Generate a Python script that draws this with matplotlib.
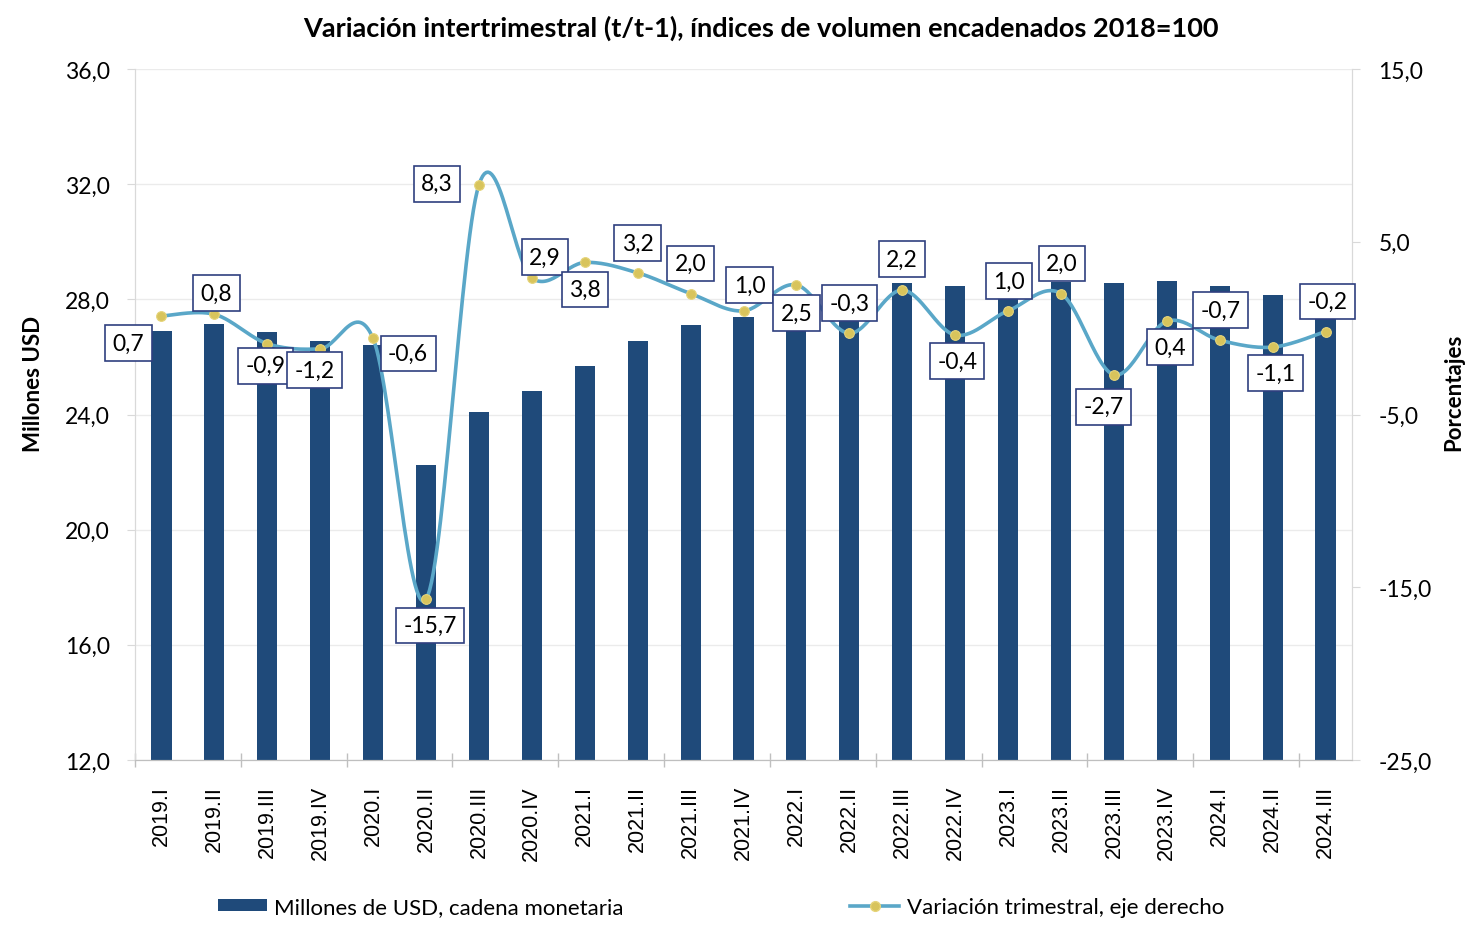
import numpy as np
import matplotlib
matplotlib.use("Agg")
import matplotlib.pyplot as plt
from matplotlib.lines import Line2D
from matplotlib.patches import Patch

plt.rcParams['font.family'] = ['Lato', 'DejaVu Sans']

# ---------------- data ----------------
categories = ["2019.I", "2019.II", "2019.III", "2019.IV",
              "2020.I", "2020.II", "2020.III", "2020.IV",
              "2021.I", "2021.II", "2021.III", "2021.IV",
              "2022.I", "2022.II", "2022.III", "2022.IV",
              "2023.I", "2023.II", "2023.III", "2023.IV",
              "2024.I", "2024.II", "2024.III"]

millones_usd = [26.9, 27.15, 26.87, 26.55,
                26.4, 22.25, 24.1, 24.8,
                25.7, 26.55, 27.1, 27.4,
                27.75, 27.9, 28.55, 28.45,
                28.1, 28.6, 28.55, 28.65,
                28.45, 28.15, 28.2]

variacion = [0.7, 0.8, -0.9, -1.2,
             -0.6, -15.7, 8.3, 2.9,
             3.8, 3.2, 2.0, 1.0,
             2.5, -0.3, 2.2, -0.4,
             1.0, 2.0, -2.7, 0.4,
             -0.7, -1.1, -0.2]

left_ticks = [12.0, 16.0, 20.0, 24.0, 28.0, 32.0, 36.0]
right_ticks = [-25.0, -15.0, -5.0, 5.0, 15.0]

# label offsets (pixels: dx right, dy down) relative to each point
label_offsets = [(-33, 27), (2, -21), (-2, 22), (-6, 21),
                 (35, 15), (4, 26), (-42, -1), (13, -21),
                 (0, 27), (0, -30), (0, -30), (6, -26),
                 (0, 28), (0, -30), (0, -31), (2, 26),
                 (1, -30), (1, -30), (-10, 32), (3, 26),
                 (1, -30), (3, 26), (2, -30)]

BAR_COLOR = "#1F4A7A"
LINE_COLOR = "#5AA7C8"
MARK_COLOR = "#D8C45C"

def fmt(v):
    return f"{v:.1f}".replace(".", ",")

def catmull_rom(xs, ys, n=30):
    """Excel-like smoothed line through the given points (Bezier with
    control points P_i +/- (P_{i+1}-P_{i-1})/6)."""
    P = np.column_stack([xs, ys]).astype(float)
    out = []
    for i in range(len(P) - 1):
        p0 = P[i - 1] if i > 0 else P[i]
        p1 = P[i]
        p2 = P[i + 1]
        p3 = P[i + 2] if i + 2 < len(P) else P[i + 1]
        c1 = p1 + (p2 - p0) / 6.0
        c2 = p2 - (p3 - p1) / 6.0
        t = np.linspace(0, 1, n)[:, None]
        seg = ((1 - t) ** 3) * p1 + 3 * ((1 - t) ** 2) * t * c1 + 3 * (1 - t) * t ** 2 * c2 + t ** 3 * p2
        out.append(seg if i == 0 else seg[1:])
    S = np.vstack(out)
    return S[:, 0], S[:, 1]

# ---------------- figure ----------------
W, H = 1466, 928
fig = plt.figure(figsize=(W / 100, H / 100), dpi=100)
L, R, T, B = 135, 1352, 70, 761
ax = fig.add_axes([L / W, 1 - B / H, (R - L) / W, (B - T) / H])

x = np.arange(len(categories))
ax.bar(x, millones_usd, width=0.38, color=BAR_COLOR, zorder=2)
ax.set_xlim(-0.5, len(categories) - 0.5)
ax.set_ylim(12, 36)
ax.set_yticks(left_ticks)
ax.set_yticklabels([fmt(v) for v in left_ticks], fontsize=16.5)
ax.yaxis.grid(True, color="#EBEBEB", linewidth=1.0, zorder=0)
ax.set_axisbelow(True)
ax.set_xticks(x)
ax.set_xticklabels(categories, rotation=90, fontsize=15.5,
                   family=["Liberation Sans", "DejaVu Sans"])
ax.tick_params(axis="x", length=0, pad=18)
ax.set_xticks(np.arange(-0.5, len(categories), 2), minor=True)
ax.tick_params(axis="x", which="minor", length=10, direction="inout", color="#BFBFBF", width=1)
ax.tick_params(axis="y", length=6, color="#D9D9D9", pad=12)
ax.spines["top"].set_visible(False)
for s in ["left", "right"]:
    ax.spines[s].set_color("#D9D9D9")
ax.spines["bottom"].set_color("#BFBFBF")

ax2 = ax.twinx()
ax2.set_ylim(-25, 15)
ax2.set_yticks(right_ticks)
ax2.set_yticklabels([fmt(v) for v in right_ticks], fontsize=16.5)
ax2.tick_params(axis="y", length=6, color="#D9D9D9", pad=13)
ax2.spines["top"].set_visible(False)
for s in ["left", "right"]:
    ax2.spines[s].set_color("#D9D9D9")
ax2.spines["bottom"].set_color("#BFBFBF")

sx, sy = catmull_rom(x, variacion)
ax2.plot(sx, sy, color=LINE_COLOR, linewidth=2.6, solid_capstyle="round", zorder=3)
ax2.plot(x, variacion, linestyle="none", marker="o", markersize=7,
         markerfacecolor=MARK_COLOR, markeredgecolor="#E6D47A", markeredgewidth=0.8, zorder=4)

for xi, v, (dx, dy) in zip(x, variacion, label_offsets):
    ax2.annotate(fmt(v), (xi, v), xytext=(dx * 0.72, -dy * 0.72), textcoords="offset points",
                 ha="center", va="center", fontsize=16.5, zorder=6,
                 bbox=dict(boxstyle="square,pad=0.32", facecolor="white",
                           edgecolor="#2F3F7F", linewidth=1.2))

fig.text(761 / W, 1 - 28 / H,
         "Variación intertrimestral (t/t-1), índices de volumen encadenados 2018=100",
         ha="center", va="center", fontsize=19.5, fontweight="bold")

fig.text(33 / W, 1 - 384 / H, "Millones USD", rotation=90, ha="center", va="center",
         fontsize=16, fontweight="bold")

fig.text(1443 / W, 1 - 392 / H, "Porcentajes", rotation=90, ha="left", va="center",
         fontsize=16, fontweight="bold")

handles = [Patch(facecolor=BAR_COLOR, edgecolor="none"),
           Line2D([0], [0], color=LINE_COLOR, linewidth=2.6, marker="o", markersize=7,
                  markerfacecolor=MARK_COLOR, markeredgecolor="#E6D47A")]
leg = fig.legend(handles, ["Millones de USD, cadena monetaria", "Variación trimestral, eje derecho"],
                 loc="center", bbox_to_anchor=(721 / W, 1 - 908 / H), ncol=2, frameon=False,
                 fontsize=16, handlelength=2.2, handleheight=0.45, handletextpad=0.35,
                 columnspacing=10.2)

fig.savefig("out.png", dpi=100)
